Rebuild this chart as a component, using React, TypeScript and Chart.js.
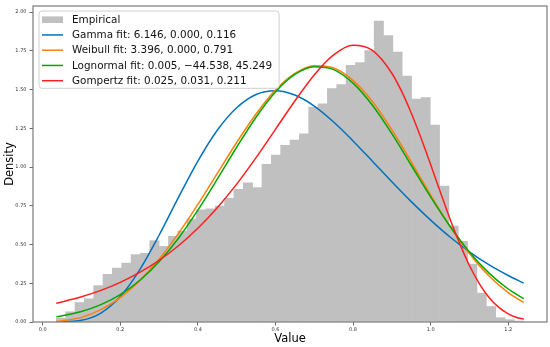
import React, { useEffect, useRef } from "react";
import { Chart, registerables } from "chart.js";

Chart.register(...registerables);

// Histogram: 50 equal bins from the data minimum
const binStart = 0.035;
const binWidth = 0.0241;
const empiricalDensity = [
  0.024, 0.066, 0.126, 0.15, 0.235, 0.308, 0.348, 0.38, 0.435, 0.444,
  0.525, 0.488, 0.553, 0.587, 0.664, 0.724, 0.73, 0.749, 0.798, 0.856,
  0.899, 0.867, 1.018, 1.078, 1.14, 1.174, 1.215, 1.388, 1.409, 1.507,
  1.533, 1.657, 1.674, 1.753, 1.943, 1.849, 1.742, 1.588, 1.439, 1.449,
  1.272, 0.877, 0.62, 0.521, 0.373, 0.186, 0.1, 0.028, 0.015, 0.006,
];

// Fitted density curves
const fitX = [
  0.035, 0.1, 0.15, 0.2, 0.25, 0.3, 0.35, 0.4, 0.45, 0.5, 0.55, 0.6, 0.65,
  0.7, 0.75, 0.8, 0.85, 0.9, 0.95, 1.0, 1.05, 1.1, 1.15, 1.2, 1.24,
];
const gammaY = [
  0.0001, 0.011, 0.058, 0.165, 0.337, 0.56, 0.804, 1.039, 1.238, 1.383, 1.469,
  1.493, 1.465, 1.394, 1.291, 1.169, 1.038, 0.905, 0.777, 0.658, 0.549, 0.453,
  0.37, 0.3, 0.251,
];
const weibullY = [
  0.0025, 0.03, 0.08, 0.158, 0.267, 0.405, 0.572, 0.759, 0.959, 1.159, 1.343,
  1.497, 1.605, 1.655, 1.64, 1.56, 1.423, 1.241, 1.034, 0.82, 0.618, 0.442,
  0.298, 0.19, 0.126,
];
const lognormY = [
  0.033, 0.068, 0.112, 0.177, 0.268, 0.389, 0.541, 0.722, 0.922, 1.128, 1.322,
  1.485, 1.598, 1.648, 1.629, 1.542, 1.399, 1.216, 1.012, 0.808, 0.618, 0.452,
  0.317, 0.213, 0.151,
];
const gompertzX = [
  0.035, 0.1, 0.15, 0.2, 0.25, 0.3, 0.35, 0.4, 0.45, 0.5, 0.55, 0.6, 0.65,
  0.7, 0.75, 0.8, 0.85, 0.9, 0.925, 0.95, 0.975, 1.0, 1.025, 1.05, 1.075, 1.1,
  1.125, 1.15, 1.175, 1.2, 1.22, 1.24,
];
const gompertzY = [
  0.121, 0.163, 0.204, 0.256, 0.32, 0.398, 0.492, 0.605, 0.738, 0.89, 1.061,
  1.244, 1.427, 1.595, 1.724, 1.786, 1.753, 1.606, 1.49, 1.349, 1.189, 1.016,
  0.839, 0.665, 0.506, 0.365, 0.25, 0.16, 0.096, 0.053, 0.031, 0.018,
];

const seriesLabels = [
  "Empirical",
  "Gamma fit: 6.146, 0.000, 0.116",
  "Weibull fit: 3.396, 0.000, 0.791",
  "Lognormal fit: 0.005, \u221244.538, 45.249",
  "Gompertz fit: 0.025, 0.031, 0.211",
];
const seriesColors = ["#c0c0c0", "#0072bd", "#ff7f0e", "#00a800", "#ff1f1f"];

const xTicks = [0, 0.2, 0.4, 0.6, 0.8, 1.0, 1.2];
const yTicks = [0, 0.25, 0.5, 0.75, 1.0, 1.25, 1.5, 1.75, 2.0];

const FONT = "'DejaVu Sans', 'Liberation Sans', sans-serif";

const framePlugin = {
  id: "frame",
  afterDatasetsDraw(chart: any) {
    const { ctx, chartArea: a } = chart;
    ctx.save();
    ctx.strokeStyle = "#7a7a7a";
    ctx.lineWidth = 1.2;
    ctx.strokeRect(a.left, a.top, a.right - a.left, a.bottom - a.top);
    ctx.restore();
  },
};

const legendPlugin = {
  id: "mplLegend",
  afterDraw(chart: any) {
    const { ctx, chartArea: a } = chart;
    const datasets = chart.data.datasets;
    const fontSize = 10.4;
    ctx.save();
    ctx.font = `${fontSize}px ${FONT}`;
    let maxW = 0;
    datasets.forEach((d: any) => {
      maxW = Math.max(maxW, ctx.measureText(d.label).width);
    });
    const x0 = a.left + 6;
    const y0 = a.top + 5;
    const textX = x0 + 33;
    const w = 33 + maxW + 7;
    const rowGap = 15.25;
    const h = 8.7 + rowGap * (datasets.length - 1) + 7.6;
    const r = 3;
    ctx.beginPath();
    ctx.moveTo(x0 + r, y0);
    ctx.lineTo(x0 + w - r, y0);
    ctx.quadraticCurveTo(x0 + w, y0, x0 + w, y0 + r);
    ctx.lineTo(x0 + w, y0 + h - r);
    ctx.quadraticCurveTo(x0 + w, y0 + h, x0 + w - r, y0 + h);
    ctx.lineTo(x0 + r, y0 + h);
    ctx.quadraticCurveTo(x0, y0 + h, x0, y0 + h - r);
    ctx.lineTo(x0, y0 + r);
    ctx.quadraticCurveTo(x0, y0, x0 + r, y0);
    ctx.closePath();
    ctx.fillStyle = "rgba(255,255,255,0.8)";
    ctx.fill();
    ctx.strokeStyle = "#d0d0d0";
    ctx.lineWidth = 1;
    ctx.stroke();

    datasets.forEach((d: any, i: number) => {
      const cy = y0 + 8.7 + rowGap * i;
      if (d.type === "bar") {
        ctx.fillStyle = d.backgroundColor;
        ctx.fillRect(x0 + 3, cy - 3.3, 21, 6.6);
      } else {
        ctx.strokeStyle = d.borderColor;
        ctx.lineWidth = 1.5;
        ctx.beginPath();
        ctx.moveTo(x0 + 3, cy);
        ctx.lineTo(x0 + 24, cy);
        ctx.stroke();
      }
      ctx.fillStyle = "#111";
      ctx.textBaseline = "middle";
      ctx.textAlign = "left";
      ctx.fillText(d.label, textX, cy + 0.5);
    });
    ctx.restore();
  },
};

export default function App() {
  const canvasRef = useRef<HTMLCanvasElement | null>(null);

  useEffect(() => {
    const canvas = canvasRef.current;
    if (!canvas) return;
    const lineDs = (label: string, color: string, xs: number[], ys: number[], order: number) => ({
      type: "line" as const,
      label,
      data: xs.map((x, i) => ({ x, y: ys[i] })),
      borderColor: color,
      backgroundColor: color,
      borderWidth: 1.5,
      pointRadius: 0,
      fill: false,
      cubicInterpolationMode: "monotone" as const,
      order,
    });
    const chart = new Chart(canvas, {
      type: "bar",
      data: {
        datasets: [
          {
            type: "bar",
            label: seriesLabels[0],
            data: empiricalDensity.map((y, i) => ({ x: binStart + binWidth * (i + 0.5), y })),
            backgroundColor: seriesColors[0],
            borderWidth: 0,
            barPercentage: 1,
            categoryPercentage: 1,
            order: 10,
          } as any,
          lineDs(seriesLabels[1], seriesColors[1], fitX, gammaY, 4),
          lineDs(seriesLabels[2], seriesColors[2], fitX, weibullY, 3),
          lineDs(seriesLabels[3], seriesColors[3], fitX, lognormY, 2),
          lineDs(seriesLabels[4], seriesColors[4], gompertzX, gompertzY, 1),
        ],
      },
      options: {
        responsive: false,
        animation: false,
        events: [],
        layout: { padding: { top: 3, right: 3, left: 0, bottom: 0 } },
        plugins: {
          legend: { display: false },
          tooltip: { enabled: false },
        },
        scales: {
          x: {
            type: "linear",
            min: -0.025,
            max: 1.3,
            offset: false,
            afterBuildTicks: (axis: any) => {
              axis.ticks = xTicks.map((v) => ({ value: v }));
            },
            afterFit: (axis: any) => {
              axis.height = 25;
            },
            grid: {
              offset: false,
              drawOnChartArea: false,
              drawTicks: true,
              tickLength: 3.5,
              tickColor: "#444",
              tickWidth: 0.8,
            },
            border: { display: false },
            ticks: {
              autoSkip: false,
              maxRotation: 0,
              padding: 1,
              color: "#333",
              font: { size: 5, family: FONT },
              callback: (v: any) => Number(v).toFixed(1),
            },
            title: {
              display: true,
              text: "Value",
              color: "#000",
              font: { size: 11.5, family: FONT },
              padding: { top: 0, bottom: 1 },
            },
          },
          y: {
            type: "linear",
            min: 0,
            max: 2.04,
            afterBuildTicks: (axis: any) => {
              axis.ticks = yTicks.map((v) => ({ value: v }));
            },
            afterFit: (axis: any) => {
              axis.width = 33;
            },
            grid: {
              drawOnChartArea: false,
              drawTicks: true,
              tickLength: 3.5,
              tickColor: "#444",
              tickWidth: 0.8,
            },
            border: { display: false },
            ticks: {
              autoSkip: false,
              padding: 3,
              color: "#333",
              font: { size: 5, family: FONT },
              callback: (v: any) => Number(v).toFixed(2),
            },
            title: {
              display: true,
              text: "Density",
              color: "#000",
              font: { size: 11.5, family: FONT },
              padding: { top: 3.6, bottom: 0 },
            },
          },
        },
      } as any,
      plugins: [framePlugin, legendPlugin],
    });
    return () => chart.destroy();
  }, []);

  return (
    <div style={{ position: "fixed", left: 0, top: 0, width: 550, height: 347, background: "#fff" }}>
      <canvas ref={canvasRef} width={550} height={347} style={{ width: 550, height: 347, display: "block" }} />
    </div>
  );
}
